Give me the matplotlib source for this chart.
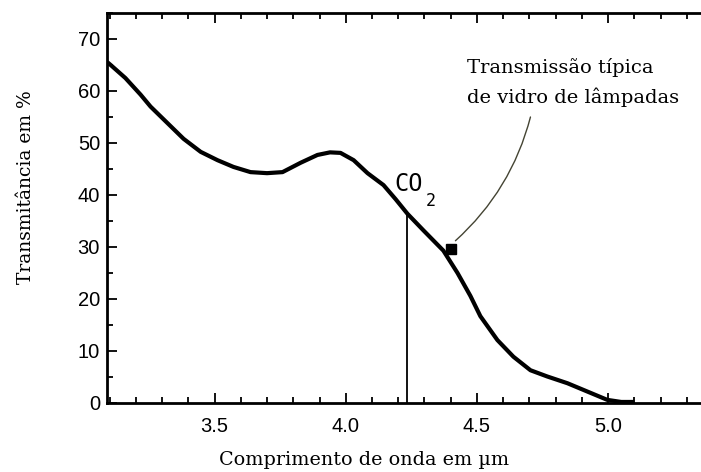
import matplotlib
matplotlib.use("Agg")
import matplotlib.pyplot as plt
from matplotlib.ticker import MultipleLocator, FixedLocator

# Data
wavelength = [3.09, 3.104, 3.16, 3.218, 3.256, 3.321, 3.382, 3.447, 3.511, 3.572,
              3.637, 3.70, 3.759, 3.828, 3.892, 3.94, 3.98, 4.03, 4.083, 4.144,
              4.190, 4.235, 4.296, 4.372, 4.426, 4.475, 4.513, 4.578, 4.639, 4.704,
              4.768, 4.845, 4.921, 4.997, 5.05, 5.10]
transmittance = [65.6, 65.0, 62.5, 59.3, 57.0, 53.8, 50.8, 48.3, 46.7, 45.4,
                 44.4, 44.2, 44.4, 46.2, 47.7, 48.2, 48.1, 46.7, 44.2, 41.9,
                 39.2, 36.4, 33.2, 29.3, 25.0, 20.6, 16.7, 12.1, 8.9, 6.3,
                 5.1, 3.8, 2.2, 0.6, 0.2, 0.2]
co2_wavelength = 4.235
co2_transmittance = 36.4
glass_point = (4.402, 29.6)
xticks = [3.5, 4.0, 4.5, 5.0]
xtick_labels = ["3.5", "4.0", "4.5", "5.0"]
yticks = [0, 10, 20, 30, 40, 50, 60, 70]

W, H = 701, 472
fig = plt.figure(figsize=(W / 100, H / 100), dpi=100)
ax = fig.add_axes([107 / W, (H - 403) / H, (W - 107) / W, 390 / H])

ax.plot(wavelength, transmittance, color="black", lw=3, solid_joinstyle="round",
        solid_capstyle="butt")
ax.plot([co2_wavelength, co2_wavelength], [0, co2_transmittance], color="black", lw=1.3)

ax.set_xlim(3.09, 5.354)
ax.set_ylim(0, 75)

ax.xaxis.set_major_locator(FixedLocator(xticks))
ax.set_xticklabels(xtick_labels)
ax.xaxis.set_minor_locator(MultipleLocator(0.1))
ax.yaxis.set_major_locator(FixedLocator(yticks))
ax.yaxis.set_minor_locator(MultipleLocator(5))

ax.tick_params(which="both", direction="in", top=True, right=False, width=1.3,
               labelsize=14.5, colors="black")
ax.tick_params(which="major", length=7)
ax.tick_params(which="minor", length=4)
ax.tick_params(axis="y", pad=5)
ax.tick_params(axis="x", pad=10)
for lab in ax.get_xticklabels() + ax.get_yticklabels():
    lab.set_family("Liberation Sans")

for s in ["left", "top", "bottom"]:
    ax.spines[s].set_linewidth(2)
ax.spines["right"].set_visible(False)

serif = "DejaVu Serif"
ax.set_xlabel("Comprimento de onda em µm", family=serif, fontsize=13.8, va="center")
ax.xaxis.set_label_coords((364 - 107) / (W - 107), (403 - 460) / 390)
ax.set_ylabel("Transmitância em %", family=serif, fontsize=13.5, va="center", ha="center")
ax.yaxis.set_label_coords((26 - 107) / (W - 107), (403 - 187) / 390)

# CO2 label
ax.text(4.241, 42.1, "CO", family="DejaVu Sans Mono", fontsize=17, ha="center", va="center")
ax.text(4.323, 38.8, "2", family="DejaVu Sans Mono", fontsize=12, ha="center", va="center")

# Annotation
ax.text(4.464, 64.6, "Transmissão típica", family=serif, fontsize=14, ha="left", va="center")
ax.text(4.464, 58.8, "de vidro de lâmpadas", family=serif, fontsize=14, ha="left", va="center")
ax.annotate("", xy=(4.418, 31.2), xytext=(4.704, 55.0),
            arrowprops=dict(arrowstyle="-", color="#444433", lw=1.0,
                            connectionstyle="arc3,rad=-0.15", shrinkA=0, shrinkB=0))
ax.plot([glass_point[0]], [glass_point[1]], marker="s", color="black", markersize=7)

fig.savefig("out.png", dpi=100)
